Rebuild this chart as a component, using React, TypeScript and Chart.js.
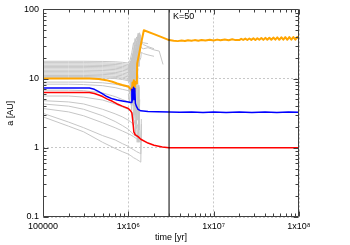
import React, { useEffect, useRef } from "react";
import { Chart, registerables } from "chart.js";

Chart.register(...registerables);

// ---- tick labels ----
const X_TICKS = [1e5, 1e6, 1e7, 1e8];
const X_TICK_LABELS = ["100000", "1x10⁶", "1x10⁷", "1x10⁸"];
const Y_TICKS = [0.1, 1, 10, 100];
const Y_TICK_LABELS = ["0.1", "1", "10", "100"];
const X_TITLE = "time [yr]";
const Y_TITLE = "a [AU]";
const K_TIME = 3e6;
const K_LABEL = "K=50";

// ---- orange planet ----
const ORANGE_X = [
  1e5, 3.5e5, 4.5e5, 5.5e5, 6.5e5, 7.4e5, 8.5e5, 1e6, 1.07e6, 1.1e6, 1.12e6, 1.14e6, 1.16e6, 1.18e6, 1.2e6, 1.23e6,
  1.26e6, 1.27e6, 1.35e6, 1.43e6, 1.52e6, 2e6, 2.5e6,
  3e6, 3.4e6, 3.8e6, 4.2e6, 4.6e6, 5e6, 5.5e6, 6e6, 6.6e6, 7.2e6, 8e6, 9e6, 1e7, 1.1e7, 1.2e7, 1.35e7, 1.5e7, 1.65e7, 1.8e7,
  2e7, 2.1e7, 2.22e7, 2.35e7, 2.48e7, 2.62e7, 2.76e7, 2.92e7, 3.08e7, 3.25e7, 3.43e7, 3.62e7, 3.82e7, 4.03e7, 4.25e7,
  4.49e7, 4.74e7, 5e7, 5.28e7, 5.57e7, 5.88e7, 6.2e7, 6.55e7, 6.91e7, 7.3e7, 7.7e7, 8.13e7, 8.58e7, 9.06e7, 9.56e7, 1e8,
];
const ORANGE_Y = [
  10, 10, 9.9, 9.5, 9.0, 8.5, 8.1, 7.7, 7.0, 6.6, 8.8, 5.8, 9.5, 6.5, 9.0, 8.5,
  9.0, 16.5, 24, 35, 50, 44, 39.5,
  36, 35.2, 34.8, 35.5, 35.0, 35.8, 35.2, 36.0, 35.3, 36.2, 35.5, 36.4, 35.6, 36.6, 35.8, 36.8, 35.9, 37.0, 36.0,
  36.0, 37.6, 36.2, 37.8, 36.1, 38.0, 36.3, 38.2, 36.2, 38.4, 36.4, 38.6, 36.3, 38.8, 36.5,
  39.0, 36.4, 39.2, 36.5, 39.4, 36.4, 39.6, 36.5, 39.7, 36.4, 39.8, 36.5, 39.9, 36.4, 40.0, 37.5,
];

// ---- blue planet ----
const BLUE_X = [
  1e5, 3.5e5, 4e5, 4.5e5, 5e5, 5.6e5, 6.5e5, 7.4e5, 8.5e5, 1e6, 1.08e6, 1.1e6, 1.12e6, 1.15e6, 1.17e6, 1.19e6, 1.21e6,
  1.24e6, 1.3e6, 1.4e6, 1.7e6, 2.2e6, 3e6, 4e6, 5.5e6, 7.5e6, 1e7, 1.4e7, 2e7, 2.8e7, 4e7, 5.5e7, 7.5e7, 1e8,
];
const BLUE_Y = [
  7.3, 7.3, 7.0, 6.5, 6.0, 5.5, 5.1, 4.9, 4.75, 4.6, 4.5, 7.0, 4.8, 7.5, 5.0, 7.2, 4.4,
  4.0, 3.6, 3.42, 3.35, 3.32, 3.3, 3.26, 3.3, 3.25, 3.3, 3.24, 3.3, 3.25, 3.3, 3.24, 3.28, 3.26,
];

// ---- red planet ----
const RED_X = [
  1e5, 3.5e5, 4e5, 4.5e5, 5e5, 5.6e5, 6.5e5, 7.4e5, 8.5e5, 1e6, 1.07e6, 1.1e6, 1.13e6, 1.16e6, 1.2e6, 1.3e6, 1.4e6,
  1.7e6, 2e6, 2.5e6, 3e6, 1e8,
];
const RED_Y = [
  6.3, 6.3, 6.1, 5.8, 5.5, 5.1, 4.7, 4.3, 4.0, 3.7, 3.4, 3.2, 2.4, 1.7, 1.55, 1.45, 1.33,
  1.17, 1.09, 1.03, 1.0, 1.0,
];

// ---- other bodies (grey), shared time grid ----
const N = null;
const GREY_X = [
  1e5, 2e5, 3e5, 5e5, 7e5, 8.5e5, 1e6, 1.05e6, 1.1e6, 1.15e6, 1.2e6, 1.25e6, 1.3e6, 1.35e6, 1.4e6, 1.42e6, 1.5e6,
  1.7e6, 2e6, 2.3e6, 2.55e6, 2.6e6,
];
const GREY_OUTER = [
  [17.8, 17.8, 17.8, 17.7, 17.5, 17.2, 16.8, 18.5, 24, 33, 27, 40, 33, N, N, N, N, N, N, N, N, N],
  [17.0, 17.0, 17.0, 16.9, 16.7, 16.4, 16.0, 15.0, 20, 26, 38, 30, 45, 36, 33, 33, 31, 29, 27, N, N, N],
  [16.3, 16.3, 16.3, 16.2, 16.0, 15.7, 15.2, 14.0, 17, 22, 19, 27, 24, 30, 28, 28, 27, 28, 26, 25, 16, N],
  [15.6, 15.6, 15.6, 15.5, 15.3, 15.0, 14.6, 13, 15, 19, 25, 21, 23, 30, 34, 34, 33, 32, N, N, N, N],
  [15.0, 15.0, 15.0, 14.9, 14.7, 14.4, 14.0, 16, 13, 18, 14, 20, 16, 22, N, N, N, N, N, N, N, N],
  [14.4, 14.4, 14.4, 14.3, 14.1, 13.8, 13.4, 12, 14, 11, 16, 13, 28, 46, 40, N, N, N, N, N, N, N],
  [13.8, 13.8, 13.8, 13.7, 13.5, 13.2, 12.8, 14, 11, 15, 12, 18, 10, N, N, N, N, N, N, N, N, N],
  [13.2, 13.2, 13.2, 13.1, 12.9, 12.6, 12.2, 11, 13, 10, 14, 12, 22, 18, 20, 24, 23, 22, 21, N, N, N],
  [12.6, 12.6, 12.6, 12.5, 12.3, 12.0, 11.6, 12.5, 10.5, 13, 9, 15, N, N, N, N, N, N, N, N, N, N],
  [12.1, 12.1, 12.1, 12.0, 11.8, 11.5, 11.1, 10, 12, 9.5, 13, 11, N, N, N, N, N, N, N, N, N, N],
  [11.6, 11.6, 11.6, 11.5, 11.3, 11.0, 10.6, 11.5, 9.5, 12, 10, N, N, N, N, N, N, N, N, N, N, N],
  [11.1, 11.1, 11.1, 11.0, 10.8, 10.5, 10.1, 9.5, 11, 8.5, 12, 9, 14, N, N, N, N, N, N, N, N, N],
  [10.7, 10.7, 10.7, 10.6, 10.4, 10.1, 9.7, 10.5, 9, 11, 8, 10, N, N, N, N, N, N, N, N, N, N],
  [10.3, 10.3, 10.3, 10.2, 10.0, 9.7, 9.3, 9, 10, 8, 11, 7, N, N, N, N, N, N, N, N, N, N],
];
const GREY_INNER = [
  [8.9, 8.9, 8.9, 8.7, 8.3, 7.9, 7.5, 7.2, 8, 6, 9, N, N, N, N, N, N, N, N, N, N, N],
  [8.3, 8.3, 8.2, 7.9, 7.4, 7.0, 6.7, 6.4, 5.2, 7, N, N, N, N, N, N, N, N, N, N, N, N],
  [6.8, 6.8, 6.7, 6.2, 5.5, 5.0, 4.6, 4.4, 4.1, 6, 3.2, N, N, N, N, N, N, N, N, N, N, N],
  [5.6, 5.6, 5.4, 4.9, 4.3, 3.9, 3.6, 3.4, 3.2, 2.6, 3.6, 2.2, N, N, N, N, N, N, N, N, N, N],
  [4.8, 4.6, 4.3, 3.6, 3.1, 2.8, 2.5, 2.4, 2.3, 2.1, 2.5, 1.9, 2.2, N, N, N, N, N, N, N, N, N],
  [4.3, 4.0, 3.6, 2.9, 2.4, 2.1, 1.85, 1.75, 1.65, 1.55, 1.5, 1.45, 1.4, 1.5, N, N, N, N, N, N, N, N],
  [3.7, 3.3, 2.9, 2.3, 1.95, 1.75, 1.6, 1.55, 1.5, 1.45, 1.4, 1.35, 1.3, 1.25, 1.2, 1.8, N, N, N, N, N, N],
  [3.15, 2.35, 1.95, 1.5, 1.3, 1.15, 1.05, 1.0, 0.97, 0.94, 0.91, 0.88, 0.86, 0.84, 0.82, 2.6, N, N, N, N, N, N],
  [2.8, 2.05, 1.7, 1.2, 0.98, 0.88, 0.81, 0.78, 0.75, 0.72, 0.7, 0.68, 0.66, 0.64, 0.62, 2.2, N, N, N, N, N, N],
];

// ---- scattering phase (grey), finer time grid ----
const CHAOS_X = [
  1.0e6, 1.03e6, 1.06e6, 1.09e6, 1.12e6, 1.15e6, 1.18e6, 1.21e6, 1.24e6, 1.27e6, 1.3e6, 1.33e6, 1.36e6, 1.39e6, 1.42e6,
  1.45e6,
];
const GREY_CHAOS = [
  [16, 12, 18, 10, 22, 14, 30, 12, 35, 20, 42, 25, 38, N, N, N],
  [14, 17, 11, 20, 13, 25, 11, 28, 16, 33, 22, 45, 30, 40, 36, 34],
  [11, 9, 14, 8, 16, 7, 19, 9, 24, 12, 30, 15, 26, N, N, N],
  [8, 6, 10, 5, 12, 4, 9, 3, 14, 2.5, 8, 1.8, 5, N, N, N],
  [6, 4.5, 7, 3.5, 9, 2.5, 6, 1.5, 4, 1.2, 2, N, N, N, N, N],
  [13, 15, 12, 16, 20, 15, 24, 18, 28, 22, 20, 26, 24, 30, 28, N],
  [12, 14, 10, 15, 11, 17, 13, 21, 15, 26, 19, 35, 23, 43, N, N],
  [9, 11, 7.5, 12, 8, 13, 6, 15, 9, 18, 7.5, 1.2, N, N, N, N],
];

const FONT = "'Liberation Sans', Arial, sans-serif";
const GREY = "rgb(198,198,198)";
const FRAME = "#404040";

const pts = (xs: number[], ys: (number | null)[]) => xs.map((x, i) => ({ x, y: ys[i] }));

const framePlugin = {
  id: "gnuframe",
  afterDatasetsDraw(chart: any) {
    const { ctx, chartArea: a, scales } = chart;
    const xs = scales.x;
    const ys = scales.y;
    ctx.save();
    ctx.strokeStyle = FRAME;
    ctx.lineWidth = 1;
    const L = Math.round(a.left) + 0.5;
    const R = Math.round(a.right) - 0.5;
    const T = Math.round(a.top) + 0.5;
    const B = Math.round(a.bottom) - 0.5;
    ctx.beginPath();
    ctx.rect(L, T, R - L, B - T);
    ctx.stroke();
    ctx.beginPath();
    for (let d = 1e5; d < 1e8 + 1; d *= 10) {
      for (let k = 1; k <= 9; k++) {
        const v = d * k;
        if (v < 1e5 || v > 1e8 * 1.0001) continue;
        const len = k === 1 ? 5 : 3;
        const p = Math.round(xs.getPixelForValue(v)) + 0.5;
        ctx.moveTo(p, B);
        ctx.lineTo(p, B - len);
        ctx.moveTo(p, T);
        ctx.lineTo(p, T + len);
      }
    }
    for (let d = 0.1; d < 100 * 1.0001; d *= 10) {
      for (let k = 1; k <= 9; k++) {
        const v = d * k;
        if (v > 100 * 1.0001) continue;
        const len = k === 1 ? 5 : 3;
        const p = Math.round(ys.getPixelForValue(v)) + 0.5;
        ctx.moveTo(L, p);
        ctx.lineTo(L + len, p);
        ctx.moveTo(R, p);
        ctx.lineTo(R - len, p);
      }
    }
    ctx.stroke();
    // K label
    const kx = xs.getPixelForValue(K_TIME);
    ctx.fillStyle = "#000";
    ctx.font = `9px ${FONT}`;
    ctx.textAlign = "left";
    ctx.textBaseline = "middle";
    ctx.fillText(K_LABEL, kx + 4, a.top + 7);
    ctx.restore();
  },
};

export default function App() {
  const ref = useRef<HTMLCanvasElement | null>(null);
  useEffect(() => {
    if (!ref.current) return;
    const greyDatasets = [
      ...[...GREY_OUTER, ...GREY_INNER].map((ys) => pts(GREY_X, ys)),
      ...GREY_CHAOS.map((ys) => pts(CHAOS_X, ys)),
    ].map((data) => ({
      data,
      borderColor: GREY,
      borderWidth: 1,
      order: 5,
    }));
    const chart = new Chart(ref.current, {
      type: "line",
      data: {
        datasets: [
          {
            data: [
              { x: K_TIME, y: 0.1 },
              { x: K_TIME, y: 100 },
            ],
            borderColor: "#000",
            borderWidth: 1,
            order: 0,
          },
          { data: pts(RED_X, RED_Y), borderColor: "#ff0000", borderWidth: 1.5, order: 1 },
          { data: pts(BLUE_X, BLUE_Y), borderColor: "#0000ff", borderWidth: 1.5, order: 2 },
          { data: pts(ORANGE_X, ORANGE_Y), borderColor: "#ffa500", borderWidth: 2, order: 3 },
          ...greyDatasets,
        ] as any,
      },
      options: {
        responsive: false,
        animation: false,
        parsing: false as any,
        normalized: true,
        layout: { padding: { left: 0, top: 9, right: 51, bottom: 0 } },
        elements: {
          point: { radius: 0 },
          line: { tension: 0, fill: false, borderJoinStyle: "round" as any },
        },
        plugins: {
          legend: { display: false },
          tooltip: { enabled: false },
        },
        scales: {
          x: {
            type: "logarithmic",
            min: 1e5,
            max: 1e8,
            afterBuildTicks: (s: any) => {
              s.ticks = X_TICKS.map((value) => ({ value }));
            },
            afterFit: (s: any) => {
              s.height = 28;
            },
            ticks: {
              autoSkip: false,
              maxRotation: 0,
              padding: 4,
              color: "#000",
              font: { family: FONT, size: 9 },
              callback: (_v: any, i: number) => X_TICK_LABELS[i],
            },
            grid: { color: "#c8c8c8", lineWidth: 1, drawTicks: false },
            border: { display: false, dash: [2, 2] },
            title: {
              display: true,
              text: X_TITLE,
              color: "#000",
              font: { family: FONT, size: 9 },
              padding: { top: 0, bottom: 2 },
            },
          },
          y: {
            type: "logarithmic",
            min: 0.1,
            max: 100,
            afterBuildTicks: (s: any) => {
              s.ticks = Y_TICKS.map((value) => ({ value }));
            },
            afterFit: (s: any) => {
              s.width = 43;
            },
            ticks: {
              autoSkip: false,
              padding: 4,
              color: "#000",
              font: { family: FONT, size: 9 },
              callback: (_v: any, i: number) => Y_TICK_LABELS[i],
            },
            grid: { color: "#c8c8c8", lineWidth: 1, drawTicks: false },
            border: { display: false, dash: [2, 2] },
            title: {
              display: true,
              text: Y_TITLE,
              color: "#000",
              font: { family: FONT, size: 9 },
              padding: { top: 5, bottom: 0 },
            },
          },
        },
      },
      plugins: [framePlugin],
    });
    return () => chart.destroy();
  }, []);
  return (
    <div style={{ position: "absolute", left: 0, top: 0, width: 350, height: 245, background: "#fff" }}>
      <canvas ref={ref} width={350} height={245} style={{ display: "block", width: 350, height: 245 }} />
    </div>
  );
}
